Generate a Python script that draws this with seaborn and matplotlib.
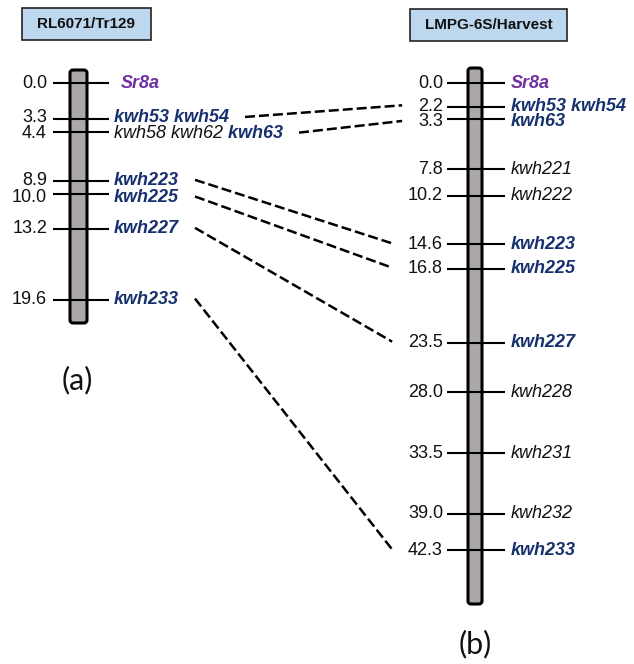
import matplotlib
matplotlib.use("Agg")
import matplotlib.pyplot as plt
import matplotlib.transforms as mtransforms
from matplotlib.patches import FancyBboxPatch, Rectangle
import seaborn as sns

sns.set_theme(style="white")
plt.rcParams["font.family"] = ["Liberation Sans", "DejaVu Sans"]

# ── 데이터 ──────────────────────────────────────────────────────────────
map_titles = ["RL6071/Tr129", "LMPG-6S/Harvest"]
panel_tags = ["(a)", "(b)"]

# 왼쪽 지도: 위치(cM)와 마커 이름 조각 (이름, 종류)
left_cm = [0.0, 3.3, 4.4, 8.9, 10.0, 13.2, 19.6]
left_markers = [
    [("Sr8a", "gene")],
    [("kwh53 kwh54", "shared")],
    [("kwh58 kwh62", "plain"), (" kwh63", "shared")],
    [("kwh223", "shared")],
    [("kwh225", "shared")],
    [("kwh227", "shared")],
    [("kwh233", "shared")],
]

# 오른쪽 지도
right_cm = [0.0, 2.2, 3.3, 7.8, 10.2, 14.6, 16.8, 23.5, 28.0, 33.5, 39.0, 42.3]
right_markers = [
    [("Sr8a", "gene")],
    [("kwh53 kwh54", "shared")],
    [("kwh63", "shared")],
    [("kwh221", "plain")],
    [("kwh222", "plain")],
    [("kwh223", "shared")],
    [("kwh225", "shared")],
    [("kwh227", "shared")],
    [("kwh228", "plain")],
    [("kwh231", "plain")],
    [("kwh232", "plain")],
    [("kwh233", "shared")],
]

# 두 지도 사이 연결 (왼쪽 cM → 오른쪽 cM)
link_left_cm = [3.3, 4.4, 8.9, 10.0, 13.2, 19.6]
link_right_cm = [2.2, 3.3, 14.6, 16.8, 23.5, 42.3]

STYLE = {
    "gene": dict(color="#7030A0", fontweight="bold", fontstyle="italic"),
    "shared": dict(color="#17306E", fontweight="bold", fontstyle="italic"),
    "plain": dict(color="#111111", fontweight="normal", fontstyle="italic"),
}
FS = 13

W, H = 634, 664
fig = plt.figure(figsize=(W / 100, H / 100), dpi=100)
ax = fig.add_axes([0, 0, 1, 1])
ax.set_xlim(0, W)
ax.set_ylim(H, 0)
ax.axis("off")

# cM → 픽셀 (y) 변환
cm_trans = mtransforms.Affine2D().scale(1, 11.05).translate(0, 83) + ax.transData

# 라벨이 겹치지 않게 살짝 벌림 (픽셀, +는 아래쪽 / 오른쪽)
chroms = [
    dict(cm=left_cm, markers=left_markers, bar=(70, 70, 17, 253),
         tick=(53, 109), num_x=47, lab_x=114, title_box=(22, 8, 129, 32),
         tag=(77, 380), nudge={3.3: -1.5, 4.4: 2.0, 8.9: -0.5, 10.0: 4.0},
         xnudge={0.0: 7}),
    dict(cm=right_cm, markers=right_markers, bar=(468, 68, 14, 536),
         tick=(447, 505), num_x=443, lab_x=511, title_box=(410, 9, 157, 32),
         tag=(475, 644), nudge={2.2: -1.0, 3.3: 2.5}, xnudge={}),
]

label_ends = []
num_texts = []
label_y = []
for i, ch in enumerate(chroms):
    bx, by, bw, bh = ch["bar"]
    ax.add_patch(FancyBboxPatch((bx, by), bw, bh,
                                boxstyle="round,pad=0,rounding_size=3",
                                facecolor="#ADA8A8", edgecolor="black",
                                linewidth=2.2, zorder=2))
    ax.hlines(ch["cm"], ch["tick"][0], ch["tick"][1], colors="black",
              linewidth=1.5, transform=cm_trans, zorder=3)

    ends, nums, ys = {}, {}, {}
    for pos, parts in zip(ch["cm"], ch["markers"]):
        nd = ch["nudge"].get(pos, 0)
        off = mtransforms.offset_copy(cm_trans, fig=fig, x=0, y=-nd, units="dots")
        ys[pos] = cm_trans.transform((0, pos))[1] - nd
        nums[pos] = ax.text(ch["num_x"], pos, f"{pos:.1f}", transform=off,
                            ha="right", va="center", fontsize=FS, color="#111111")
        name, kind = parts[0]
        t = ax.text(ch["lab_x"] + ch["xnudge"].get(pos, 0), pos, name,
                    transform=off, ha="left", va="center", fontsize=FS,
                    **STYLE[kind])
        for name, kind in parts[1:]:
            t = ax.annotate(name, xy=(1, 0), xycoords=t, ha="left", va="bottom",
                            fontsize=FS, **STYLE[kind])
        ends[pos] = t
    label_ends.append(ends)
    num_texts.append(nums)
    label_y.append(ys)

    x, y, w, h = ch["title_box"]
    ax.add_patch(Rectangle((x, y), w, h, facecolor="#BDD7EE",
                           edgecolor="#222222", linewidth=1.2))
    ax.text(x + w / 2, y + h / 2, map_titles[i], ha="center", va="center",
            fontsize=11, fontweight="bold", color="#111111")
    ax.text(ch["tag"][0], ch["tag"][1], panel_tags[i], ha="center", va="center",
            fontsize=22, family=["Lato", "DejaVu Sans"], color="#111111")

# 점선 연결: 텍스트 위치를 알아야 하므로 한 번 그린 뒤 계산
fig.canvas.draw()
r = fig.canvas.get_renderer()
inv = ax.transData.inverted()
for lc, rc in zip(link_left_cm, link_right_cm):
    x0 = label_ends[0][lc].get_window_extent(r).x1 + 16
    x1 = num_texts[1][rc].get_window_extent(r).x0 - 16
    y0 = label_y[0][lc] + 1
    y1 = label_y[1][rc] + 1
    (dx0, dy0), (dx1, dy1) = inv.transform([(x0, y0), (x1, y1)])
    ax.plot([dx0, dx1], [dy0, dy1], color="black",
            linewidth=1.8, linestyle=(0, (4, 1.6)))

fig.savefig("out.png", dpi=100, facecolor="white")
